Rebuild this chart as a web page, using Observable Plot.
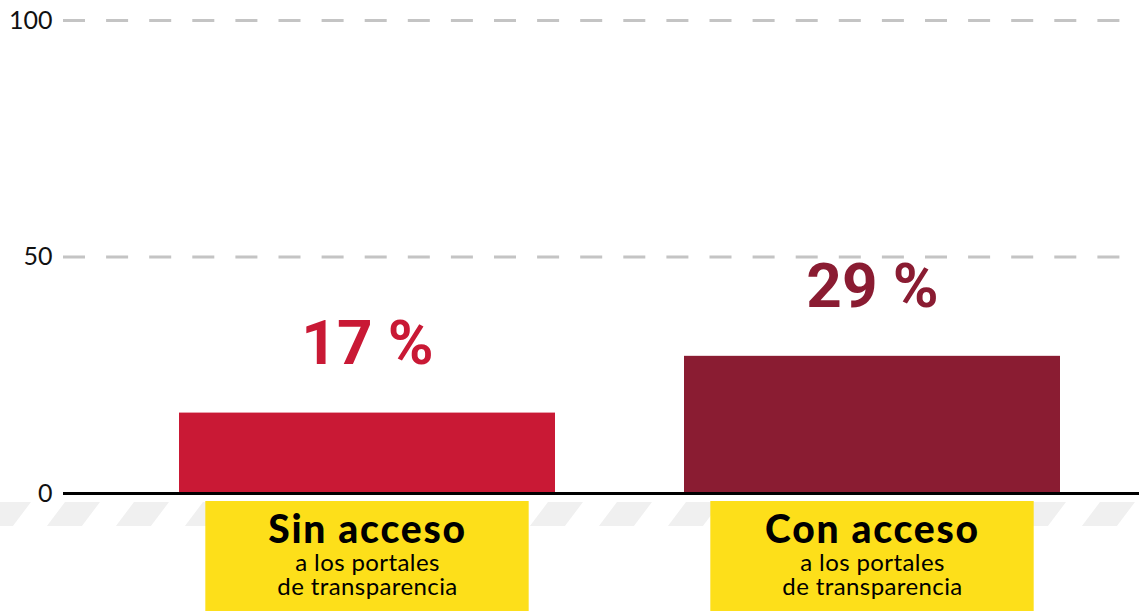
<!DOCTYPE html>
<html><head><meta charset="utf-8">
<script src="https://cdn.jsdelivr.net/npm/d3@7"></script>
<script src="https://cdn.jsdelivr.net/npm/@observablehq/plot@0.6"></script>
<style>
html,body{margin:0;padding:0;background:#fff;}
#chart{width:1139px;height:611px;overflow:hidden;}
</style></head><body><div id="chart"></div>
<script>
const categories = ["Sin acceso", "Con acceso"];
const values = [17, 29];
const valueLabels = ["17 %", "29 %"];
const subLabels = ["a los portales\nde transparencia", "a los portales\nde transparencia"];
const barColors = ["#c91935", "#8a1c32"];
const yTicks = [0, 50, 100];
const gridTicks = [50, 100];

const data = categories.map((c, i) => ({cat: c, value: values[i], label: valueLabels[i], sub: subLabels[i]}));

const plot = Plot.plot({
  width: 1139, height: 611,
  marginTop: 20, marginBottom: 118, marginLeft: 63, marginRight: 0,
  style: {fontFamily: "Lato, sans-serif", background: "transparent", fontSize: "24px"},
  x: {domain: categories, paddingInner: 0.2554, paddingOuter: 0.193, align: 0.595, axis: null},
  y: {domain: [0, 100], axis: null},
  color: {domain: categories, range: barColors},
  marks: [
    Plot.ruleY(gridTicks, {stroke: "#c4c4c4", strokeWidth: 3, strokeDasharray: "22,21.1"}),
    Plot.axisY(yTicks, {tickSize: 0, tickPadding: 11, fontSize: 25, fontWeight: 400, fill: "#111", label: null}),
    Plot.barY(data, {x: "cat", y: "value", fill: "cat"}),
    Plot.ruleY([0], {stroke: "#000", strokeWidth: 3}),
    Plot.text(data, {x: "cat", y: "value", text: "label", fill: "cat", dy: -49, lineAnchor: "bottom", fontSize: 62, fontWeight: 700, fontFamily: "Roboto"}),
    Plot.text(data, {x: "cat", frameAnchor: "bottom", text: "cat", dy: 49, lineAnchor: "bottom", fontSize: 39, fontWeight: 900, fill: "#000"}),
    Plot.text(data, {x: "cat", frameAnchor: "bottom", text: "sub", dy: 101, lineAnchor: "bottom", fontSize: 24, fontWeight: 400, lineHeight: 0.96, fill: "#000"})
  ]
});

const svg = d3.select(plot);
svg.selectAll("text").filter(function() { return categories.includes(this.textContent); })
  .style("letter-spacing", "1.8px");
svg.selectAll("text").filter(function() { return this.textContent.startsWith("a los"); })
  .style("letter-spacing", "0.4px");
const xs = plot.scale("x");
const ys = plot.scale("y");
const bw = xs.bandwidth;
const base = ys.apply(0);
const boxW = bw * 0.86;
const deco = svg.insert("g", ":first-child");
const defs = svg.insert("defs", ":first-child");
defs.append("pattern").attr("id", "stripes").attr("patternUnits", "userSpaceOnUse")
  .attr("width", 69).attr("height", 24)
  .attr("patternTransform", `translate(-4,${base + 9}) skewX(-37)`)
  .append("rect").attr("width", 35).attr("height", 24).attr("fill", "#f0f0f0");
deco.append("rect").attr("x", 0).attr("y", base + 9).attr("width", 1139).attr("height", 24).attr("fill", "url(#stripes)");
deco.selectAll("rect.box").data(categories).join("rect").attr("class", "box")
  .attr("x", d => xs.apply(d) + bw / 2 - boxW / 2)
  .attr("y", base + 8).attr("width", boxW).attr("height", 611 - base - 8)
  .attr("fill", "#fddf1a");

document.getElementById("chart").appendChild(plot);
</script></body></html>
